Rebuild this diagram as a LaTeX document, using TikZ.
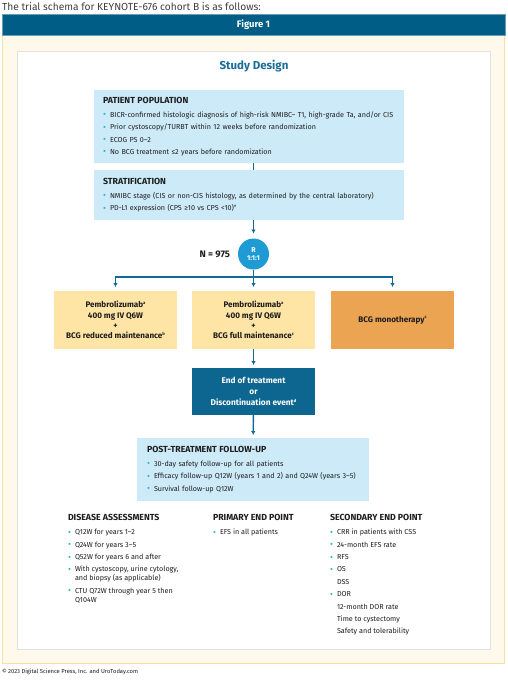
\documentclass[tikz,border=0pt]{standalone}
\usepackage{fontspec}
\setmainfont{Fira Sans}
\usetikzlibrary{positioning}
\usetikzlibrary{arrows.meta,calc}

\definecolor{barblue}{RGB}{0,93,134}
\definecolor{cream}{RGB}{255,249,236}
\definecolor{creamline}{RGB}{246,226,160}
\definecolor{panelline}{RGB}{226,226,224}
\definecolor{titleblue}{RGB}{26,110,153}
\definecolor{lightblue}{RGB}{205,234,248}
\definecolor{linkblue}{RGB}{16,106,150}
\definecolor{rblue}{RGB}{30,155,212}
\definecolor{armyellow}{RGB}{254,229,165}
\definecolor{armorange}{RGB}{235,164,82}
\definecolor{eotblue}{RGB}{13,102,144}
\definecolor{dotc}{RGB}{38,182,200}
\definecolor{txt}{RGB}{30,30,30}

\newcommand{\bodyfont}{\fontsize{7.2}{12.4}\selectfont}
\newcommand{\hd}[1]{{\fontsize{8.8}{12.4}\selectfont\bfseries #1}}
\newcommand{\armfont}{\fontsize{8.1}{10.4}\selectfont\bfseries}
\newcommand{\itm}{\makebox[7pt][l]{\raisebox{-0.5pt}{\fontsize{9}{9}\selectfont\textcolor{dotc}{•}}}}
\newcommand{\nitm}{\hspace*{7pt}}
\newcommand{\sps}[1]{\raisebox{3.2pt}{\fontsize{4.2}{4}\selectfont #1}}

\tikzset{
  bluebox/.style={fill=lightblue, inner xsep=9pt, inner ysep=0pt, align=left, text=txt, font=\bodyfont},
  armbox/.style={fill=armyellow, minimum width=123pt, minimum height=58pt, inner sep=0pt, align=center, text=txt, font=\armfont},
  conn/.style={draw=linkblue, line width=1.4pt},
  arr/.style={-{Latex[length=4pt,width=4.5pt]}},
  colbox/.style={anchor=north west, inner sep=0pt, align=left, text=txt, font=\bodyfont},
}

\begin{document}
\begin{tikzpicture}[x=1pt, y=-1pt, outer sep=0pt]

%\draw[step=10, gray!20, very thin] (0,0) grid (508,680);
\useasboundingbox (0,0) rectangle (508,680);
\fill[white] (0,0) rectangle (508,680);

\node [anchor=west, inner sep=0pt, text=txt!85, font=\fontsize{10.2}{11}\selectfont] (intro) at (2,7) {The trial schema for KEYNOTE-676 cohort B is as follows:};

\draw[fill=cream, draw=creamline, line width=1pt] (2.5,35) rectangle (504.5,663);
\draw[fill=white, draw=panelline, line width=0.8pt] (17,51) rectangle (490,649);

\node [anchor=north west, fill=barblue, draw=barblue!60!white, line width=0.6pt, minimum width=503pt, minimum height=21pt, inner sep=0pt,
       text=white, font=\fontsize{9.5}{10}\selectfont\bfseries] (bar) at (2,14) {Figure 1};

\node [text=titleblue, font=\fontsize{11.5}{12}\selectfont\bfseries] (sd) at (254,66) {Study Design};

\node [bluebox, text width=292pt, minimum height=73pt] (pop) at (249,126.5)
  {\hd{PATIENT POPULATION}\\[1.6pt]
   \itm BICR-confirmed histologic diagnosis of high-risk NMIBC– T1, high-grade Ta, and/or CIS\\
   \itm Prior cystoscopy/TURBT within 12 weeks before randomization\\
   \itm ECOG PS 0–2\\
   \itm No BCG treatment ≤2 years before randomization};

\node [bluebox, text width=292pt, minimum height=50pt] (strat) at (249,195)
  {\hd{STRATIFICATION}\\[1.6pt]
   \itm NMIBC stage (CIS or non-CIS histology, as determined by the central laboratory)\\
   \itm PD-L1 expression (CPS ≥10 vs CPS <10)\sps{e}};

\node [circle, fill=rblue, minimum size=31pt, inner sep=0pt, align=center, text=white,
       font=\fontsize{7}{8}\selectfont\bfseries] (rnd) at (253.5,254) {R\\1:1:1};
\node [anchor=east, inner sep=0pt, text=txt, font=\fontsize{9.5}{10}\selectfont\bfseries] (ncount) at (230,254) {N = 975};

\node [armbox] (arm1) at (115.5,320) {Pembrolizumab\sps{a}\\400 mg IV Q6W\\+\\BCG reduced maintenance\sps{b}};
\node [armbox] (arm2) at (253.5,320) {Pembrolizumab\sps{a}\\400 mg IV Q6W\\+\\BCG full maintenance\sps{c}};
\node [armbox, fill=armorange] (arm3) at (392.5,320) {BCG monotherapy\sps{c}};

\node [fill=eotblue, minimum width=123pt, minimum height=47pt, inner sep=0pt, align=center, text=white,
       font=\fontsize{8.3}{11}\selectfont\bfseries] (eot) at (253.5,391.5) {End of treatment\\or\\Discontinuation event\sps{d}};

\node [bluebox, inner xsep=10pt, text width=212pt, minimum height=63pt] (fup) at (253,469.5)
  {\hd{POST-TREATMENT FOLLOW-UP}\\[1.6pt]
   \itm 30-day safety follow-up for all patients\\
   \itm Efficacy follow-up Q12W (years 1 and 2) and Q24W (years 3–5)\\
   \itm Survival follow-up Q12W};

\coordinate (split) at (rnd |- 0,277);

\draw[conn] (pop.south -| rnd) -- (strat.north -| rnd);
\draw[conn, arr, shorten >=5pt] (strat.south -| rnd) -- (rnd);
\draw[conn] (rnd) -- (split);
\draw[conn, arr, shorten >=4pt] (split) -| (arm1);
\draw[conn, arr, shorten >=4pt] (split) -- (split |- arm2.north);
\draw[conn, arr, shorten >=4pt] (split) -| (arm3);
\draw[conn, arr, shorten >=3pt] (arm2) -- (eot);
\draw[conn, arr, shorten >=3pt] (eot) -- (fup);

\node [colbox] (dis) at (68,514.5)
  {\hd{DISEASE ASSESSMENTS}\\[1.6pt]
   \itm Q12W for years 1–2\\
   \itm Q24W for years 3–5\\
   \itm Q52W for years 6 and after\\
   \itm With cystoscopy, urine cytology,\\[-3.4pt]
   \nitm and biopsy (as applicable)\\
   \itm CTU Q72W through year 5 then\\[-3.4pt]
   \nitm Q104W};

\node [colbox] (pep) at (213,514.5)
  {\hd{PRIMARY END POINT}\\[1.6pt]
   \itm EFS in all patients};

\node [colbox] (sep) at (330,514.5)
  {\hd{SECONDARY END POINT}\\[1.6pt]
   \itm CRR in patients with CSS\\
   \itm 24-month EFS rate\\
   \itm RFS\\
   \itm OS\\
   \nitm DSS\\
   \itm DOR\\
   \nitm 12-month DOR rate\\
   \nitm Time to cystectomy\\
   \nitm Safety and tolerability};

\node [anchor=west, inner sep=0pt, text=txt, font=\fontsize{5.8}{6}\selectfont] (credit) at (2,672) {© 2023 Digital Science Press, Inc. and UroToday.com};

\end{tikzpicture}
\end{document}
